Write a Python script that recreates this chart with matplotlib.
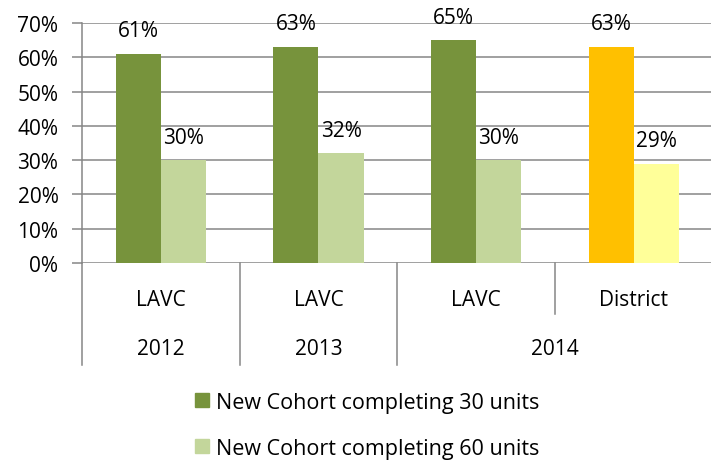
import matplotlib.pyplot as plt
import matplotlib.transforms as mtransforms
from matplotlib.patches import Patch

# data
groups = ["LAVC", "LAVC", "LAVC", "District"]
years = ["2012", "2013", "2014"]
year_spans = [(0, 0), (1, 1), (2, 3)]
units30 = [0.61, 0.63, 0.65, 0.63]
units60 = [0.30, 0.32, 0.30, 0.29]
series_names = ["New Cohort completing 30 units", "New Cohort completing 60 units"]

dark_colors = ["#77933C", "#77933C", "#77933C", "#FFC000"]
light_colors = ["#C3D69B", "#C3D69B", "#C3D69B", "#FFFF99"]
grid_color = "#868686"

plt.rcParams["font.family"] = ["Open Sans", "DejaVu Sans"]
fs = 15

fig = plt.figure(figsize=(7.11, 4.64), dpi=100)
ax = fig.add_axes([82 / 711, 1 - 264 / 464, 629 / 711, 240 / 464])

x = list(range(len(groups)))
w = 0.286
b1 = ax.bar([i - w / 2 for i in x], units30, width=w, color=dark_colors, zorder=3)
b2 = ax.bar([i + w / 2 for i in x], units60, width=w, color=light_colors, zorder=3)

fmt = lambda v: f"{v * 100:.0f}%"
ax.bar_label(b1, labels=[fmt(v) for v in units30], padding=9, fontsize=fs)
ax.bar_label(b2, labels=[fmt(v) for v in units60], padding=9, fontsize=fs)

ax.set_xlim(-0.5, 3.49)
ax.set_ylim(0, 0.7)
ax.set_yticks([i / 10 for i in range(8)])
ax.set_yticklabels([f"{i * 10}%" for i in range(8)], fontsize=fs)
ax.yaxis.grid(True, color=grid_color, linewidth=1.1, zorder=0)
ax.tick_params(axis="y", length=7, width=1.1, color=grid_color, pad=10)
ax.set_xticks([])
for s in ["top", "right", "bottom"]:
    ax.spines[s].set_visible(False)
ax.spines["left"].set_color(grid_color)
ax.spines["left"].set_linewidth(1.1)
ax.spines["left"].set_bounds(0, 0.7)

# multi-level category axis
trans = mtransforms.blended_transform_factory(ax.transData, ax.transAxes)
ax.plot([-0.5, -0.5], [0, -0.425], transform=trans, color=grid_color, lw=1.1, clip_on=False)
for i, g in enumerate(groups):
    ax.text(i, -0.154, g, transform=trans, ha="center", va="center", fontsize=fs)
for (a, b), yr in zip(year_spans, years):
    ax.text((a + b) / 2, -0.358, yr, transform=trans, ha="center", va="center", fontsize=fs)
    ax.plot([b + 0.5, b + 0.5], [0, -0.425], transform=trans, color=grid_color,
            lw=1.1, clip_on=False)
    for k in range(a, b):
        ax.plot([k + 0.5, k + 0.5], [0, -0.2125], transform=trans, color=grid_color,
                lw=1.1, clip_on=False)

handles = [Patch(color="#77933C"), Patch(color="#C3D69B")]
fig.legend(handles, series_names, loc="upper left", bbox_to_anchor=(184 / 711, 1 - 382 / 464),
           frameon=False, fontsize=15.5, handlelength=0.65, handleheight=0.65,
           handletextpad=0.35, labelspacing=1.15, borderpad=0)

fig.savefig("out.png", dpi=100)
plt.close()
